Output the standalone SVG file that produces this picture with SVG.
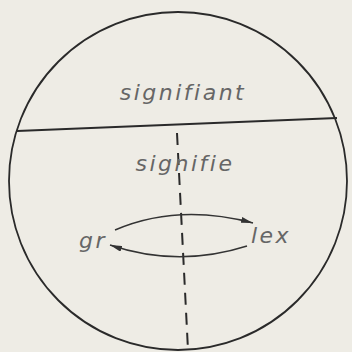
<svg xmlns="http://www.w3.org/2000/svg" width="352" height="352" viewBox="0 0 352 352">
<style>
.ln{fill:none;stroke:#2a2a2a;stroke-width:1.8}
.lbl{font-family:"DejaVu Sans","Liberation Sans",sans-serif;font-style:italic;font-weight:300;fill:#666;font-size:22px;letter-spacing:2.5px}
.arc{fill:none;stroke:#333;stroke-width:1.4}
</style>
<defs>
<marker id="ah" viewBox="0 0 12 6" refX="12" refY="3" markerWidth="12" markerHeight="6" markerUnits="userSpaceOnUse" orient="auto">
<path d="M0,0 L12,3 L0,6 z" fill="#333"/>
</marker>
</defs>
<rect width="352" height="352" fill="#eeece5"/>
<g id="circle"><circle class="ln" cx="178" cy="181" r="169"/></g>
<g id="divider"><line class="ln" x1="17" y1="131" x2="337" y2="118"/></g>
<g id="axis"><line x1="177" y1="133" x2="188" y2="350" stroke="#2a2a2a" stroke-width="2" stroke-dasharray="12,8"/></g>
<g id="signifiant"><text class="lbl" x="183" y="100" text-anchor="middle">signifiant</text></g>
<g id="signifie"><text class="lbl" x="185" y="171" text-anchor="middle">signifie</text></g>
<g id="gr"><text class="lbl" x="93" y="248" text-anchor="middle">gr</text></g>
<g id="lex"><text class="lbl" x="271" y="243" text-anchor="middle">lex</text></g>
<g id="connectors">
<path class="arc" d="M115,230 Q178,203 253,223" marker-end="url(#ah)"/>
<path class="arc" d="M247,246 Q178,268 110,245" marker-end="url(#ah)"/>
</g>
</svg>
